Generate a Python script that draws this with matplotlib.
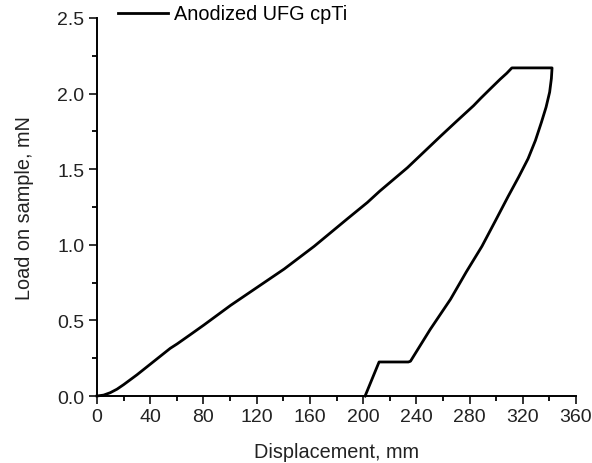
import matplotlib
matplotlib.use("Agg")
import matplotlib.pyplot as plt
from matplotlib.ticker import MultipleLocator

# loading branch
load_x = [0, 5, 10, 15, 20, 30, 40, 50, 55, 60.3, 70, 80.4, 100.5, 120.6, 140.7, 163.2,
          187.9, 203.2, 212.5, 233.3, 258.4, 270, 283, 288.5, 296, 303, 308, 311.8]
load_y = [0, 0.006, 0.022, 0.045, 0.075, 0.14, 0.21, 0.28, 0.315, 0.345, 0.405, 0.47,
          0.60, 0.72, 0.84, 0.99, 1.17, 1.28, 1.355, 1.51, 1.72, 1.815, 1.92, 1.97,
          2.035, 2.095, 2.135, 2.17]
# hold at peak load
hold_x = [342]
hold_y = [2.17]
# unloading branch
unload_x = [341.5, 340.2, 337.5, 334, 329.5, 324, 317, 309, 299.5, 289.3, 277.5,
            265.7, 250.4, 235.6, 234, 212, 201.5]
unload_y = [2.10, 2.01, 1.91, 1.81, 1.69, 1.57, 1.45, 1.32, 1.16, 0.99, 0.82,
            0.64, 0.44, 0.23, 0.225, 0.225, 0.0]

xs = load_x + hold_x + unload_x
ys = load_y + hold_y + unload_y

plt.rcParams['font.family'] = ['Liberation Sans', 'DejaVu Sans']
plt.rcParams['font.size'] = 14

fig = plt.figure(figsize=(5.92, 4.64), dpi=100)
ax = fig.add_axes([97 / 592, 1 - 397 / 464, (576 - 97) / 592, (397 - 19) / 464])

ax.plot(xs, ys, color='black', lw=2, label='Anodized UFG cpTi', solid_joinstyle='round')

ax.set_xlim(0, 360)
ax.set_ylim(0, 2.5)
ax.xaxis.set_major_locator(MultipleLocator(40))
ax.xaxis.set_minor_locator(MultipleLocator(20))
ax.yaxis.set_major_locator(MultipleLocator(0.5))
ax.yaxis.set_minor_locator(MultipleLocator(0.25))
ax.tick_params(which='major', direction='out', length=6, width=1.3, labelsize=14,
               colors='#222222', pad=3)
ax.tick_params(which='minor', direction='out', length=3.5, width=1.3)
for s in ['top', 'right']:
    ax.spines[s].set_visible(False)
for s in ['left', 'bottom']:
    ax.spines[s].set_linewidth(1.4)

ax.set_xlabel('Displacement, mm', fontsize=14.3, color='#222222', labelpad=12)
ax.set_ylabel('Load on sample, mN', fontsize=14.3, color='#222222', labelpad=17)

ax.legend(loc='center left', bbox_to_anchor=(118 / 592, 1 - 15 / 464),
          bbox_transform=fig.transFigure, frameon=False, handlelength=2.5,
          handletextpad=0.3, borderpad=0, borderaxespad=0, fontsize=14.3)

for line in ax.lines:
    line.set_clip_on(False)

fig.savefig('out.png', dpi=100)
